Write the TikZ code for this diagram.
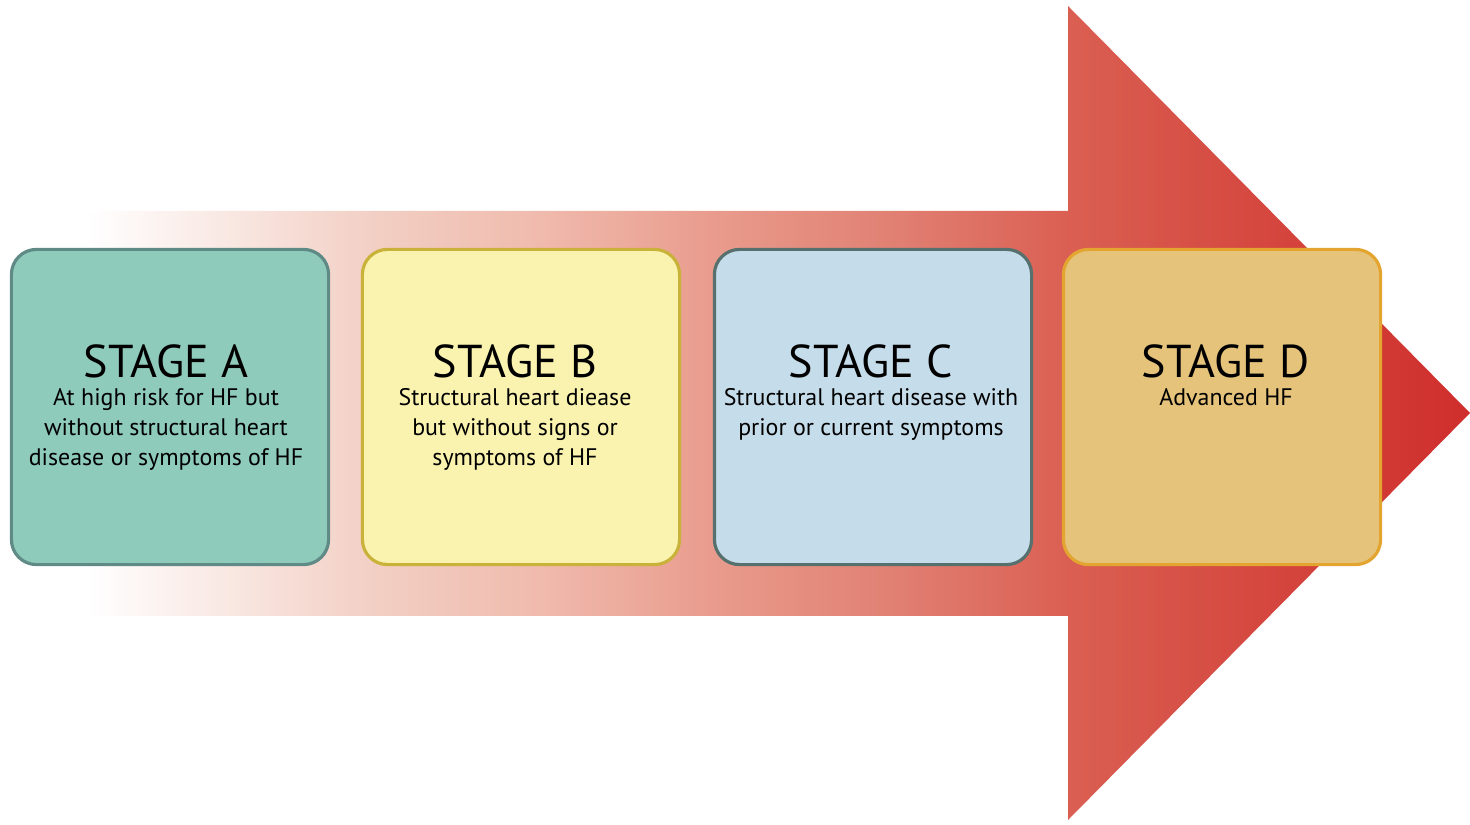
\documentclass[tikz,border=0pt]{standalone}
\usepackage{fontspec}
\setmainfont{PT Sans}
\usepackage{xcolor}
\usepackage{tikz}
\usetikzlibrary{positioning}

\definecolor{fillA}{HTML}{8ECBBB}
\definecolor{lineA}{HTML}{5F8A85}
\definecolor{fillB}{HTML}{FAF3B0}
\definecolor{lineB}{HTML}{C9B23A}
\definecolor{fillC}{HTML}{C5DCEA}
\definecolor{lineC}{HTML}{56706E}
\definecolor{fillD}{HTML}{E5C37B}
\definecolor{lineD}{HTML}{E3A52F}
\definecolor{shadeI}{HTML}{F2CEC3}
\definecolor{shadeII}{HTML}{F0BCAF}
\definecolor{shadeIII}{HTML}{E8998A}
\definecolor{shadeIV}{HTML}{E07F72}
\definecolor{shadeV}{HTML}{DA5F52}
\definecolor{shadeVI}{HTML}{CF2E2C}

\pgfdeclarehorizontalshading{stageshade}{100bp}{%
  color(0bp)=(white); color(25bp)=(white);
  color(35.6bp)=(shadeI); color(41bp)=(shadeII);
  color(48.2bp)=(shadeIII); color(54.4bp)=(shadeIV);
  color(60.5bp)=(shadeV); color(75bp)=(shadeVI);
  color(100bp)=(shadeVI)}

\tikzset{
  stagebox/.style={draw, line width=0.9pt, rounded corners=0.25cm,
    minimum width=3.17cm, minimum height=3.15cm},
  stagetitle/.style={font=\fontsize{13.1}{16}\selectfont, inner sep=0pt},
  stagedesc/.style={font=\fontsize{6.8}{8.5}\selectfont, align=center, inner sep=0pt}
}

\begin{document}
\begin{tikzpicture}[x=0.01cm, y=-0.01cm]
\useasboundingbox (0,0) rectangle (1470,825);
\shade[shading=stageshade] (87,211) -- (1068,211) -- (1068,6) -- (1470,413)
  -- (1068,820) -- (1068,616) -- (87,616) -- cycle;

\node[stagebox, fill=fillA, draw=lineA] (boxA) at (170,407) {};
\node[stagebox, fill=fillB, draw=lineB] (boxB) at (521,407) {};
\node[stagebox, fill=fillC, draw=lineC] (boxC) at (873,407) {};
\node[stagebox, fill=fillD, draw=lineD] (boxD) at (1222,407) {};

\node[stagetitle, anchor=base] (titA) at (166,378) {STAGE A};
\node[stagetitle, anchor=base] (titB) at (515,378) {STAGE B};
\node[stagetitle, anchor=base] (titC) at (871,378) {STAGE C};
\node[stagetitle, anchor=base] (titD) at (1226,378) {STAGE D};

\node[stagedesc, below=0.09cm of titA] (descA) {At high risk for HF but\\without structural heart\\disease or symptoms of HF};
\node[stagedesc, below=0.09cm of titB] (descB) {Structural heart diease\\but without signs or\\symptoms of HF};
\node[stagedesc, below=0.09cm of titC] (descC) {Structural heart disease with\\prior or current symptoms};
\node[stagedesc, below=0.09cm of titD] (descD) {Advanced HF};
\end{tikzpicture}
\end{document}
